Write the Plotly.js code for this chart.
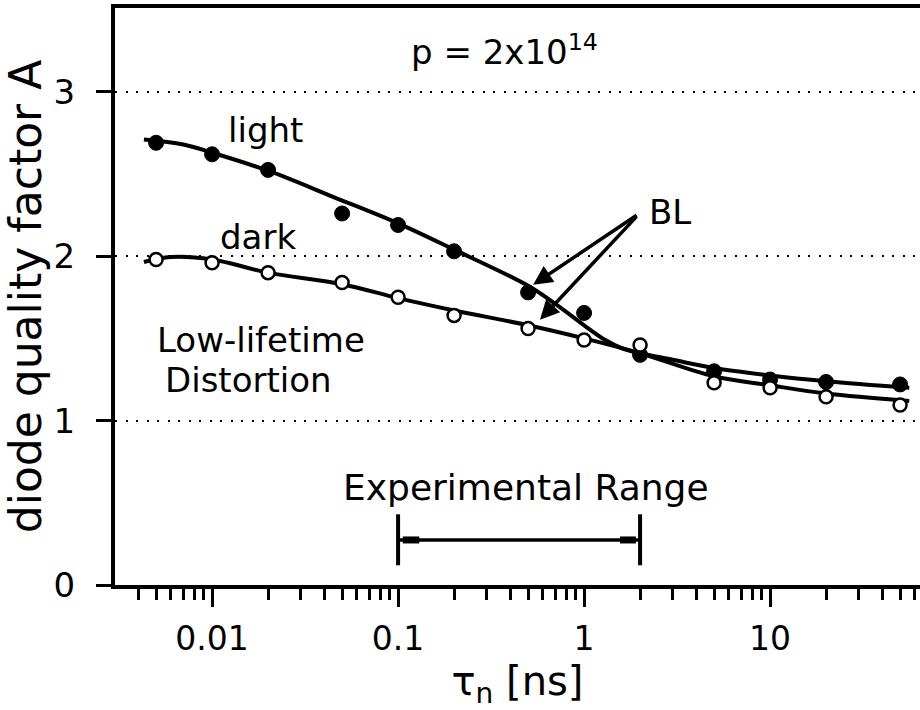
<!DOCTYPE html>
<html>
<head>
<meta charset="utf-8">
<script src="https://cdn.plot.ly/plotly-3.0.1.min.js"></script>
<style>
html,body{margin:0;padding:0;background:#fff;}
#chart{width:920px;height:710px;}
</style>
</head>
<body>
<div id="chart"></div>
<script>
// ---- data ----
var tau = [0.005, 0.01, 0.02, 0.05, 0.1, 0.2, 0.5, 1, 2, 5, 10, 20, 50];
var lightA = [2.69, 2.62, 2.525, 2.26, 2.19, 2.03, 1.78, 1.655, 1.40, 1.30, 1.25, 1.235, 1.22];
var darkA  = [1.98, 1.96, 1.90, 1.84, 1.75, 1.64, 1.56, 1.49, 1.46, 1.23, 1.20, 1.145, 1.095];

var lightFitTau = [0.0043, 0.007, 0.01, 0.02, 0.045, 0.1, 0.2, 0.5, 0.7, 1.0, 1.3, 1.6, 2.0, 3, 5, 10, 20, 56];
var lightFitA   = [2.71, 2.68, 2.63, 2.52, 2.36, 2.20, 2.04, 1.82, 1.71, 1.58, 1.49, 1.44, 1.41, 1.37, 1.32, 1.275, 1.24, 1.20];
var darkFitTau  = [0.0043, 0.006, 0.01, 0.02, 0.05, 0.1, 0.2, 0.5, 1.0, 2.0, 5, 10, 20, 56];
var darkFitA    = [1.965, 1.995, 1.98, 1.90, 1.83, 1.745, 1.67, 1.58, 1.50, 1.41, 1.27, 1.215, 1.165, 1.12];

var expRange = [0.1, 2];
var xTickVals = [0.01, 0.1, 1, 10];
var xTickText = ['0.01', '0.1', '1', '10'];
var yTickVals = [0, 1, 2, 3];
var yTickText = ['0', '1', '2', '3'];

// ---- drawing ----
var FONT = 'DejaVu Sans, Arial, sans-serif';

var bracketLow = 0.12, bracketHigh = 0.43, bracketMid = 0.274;

var traces = [
  {x: lightFitTau, y: lightFitA, mode: 'lines', line: {color: '#000', width: 4, shape: 'spline', smoothing: 1}, hoverinfo: 'skip'},
  {x: darkFitTau, y: darkFitA, mode: 'lines', line: {color: '#000', width: 4, shape: 'spline', smoothing: 1}, hoverinfo: 'skip'},
  {x: tau, y: lightA, mode: 'markers', marker: {color: '#000', size: 15, line: {color: '#000', width: 1}}},
  {x: tau, y: darkA, mode: 'markers', marker: {color: '#fff', size: 13, line: {color: '#000', width: 2.5}}},
  // experimental range bracket
  {x: [expRange[0], expRange[0], null, expRange[1], expRange[1]],
   y: [bracketLow, bracketHigh, null, bracketLow, bracketHigh],
   mode: 'lines', line: {color: '#000', width: 4}, hoverinfo: 'skip'},
  {x: [expRange[0], expRange[1]], y: [bracketMid, bracketMid],
   mode: 'lines', line: {color: '#000', width: 3.5}, hoverinfo: 'skip'},
  {x: [expRange[0] * 1.06, expRange[0] * 1.3, null, expRange[1] * 0.78, expRange[1] * 0.95],
   y: [bracketMid, bracketMid, null, bracketMid, bracketMid],
   mode: 'lines', line: {color: '#000', width: 7}, hoverinfo: 'skip'}
];

function txt(text, x, y, size, xanchor) {
  return {text: text, x: x, y: y, xref: 'x', yref: 'y', showarrow: false,
          xanchor: xanchor || 'center', yanchor: 'middle',
          font: {family: FONT, size: size, color: '#000'}};
}

var annotations = [
  txt('p = 2x10<sup>14</sup>', -0.43, 3.255, 34),
  txt('light', -1.715, 2.77, 34),
  txt('dark', -1.753, 2.12, 34),
  txt('Low-lifetime', -2.306, 1.49, 34, 'left'),
  txt('Distortion', -2.263, 1.25, 34, 'left'),
  txt('BL', 0.462, 2.27, 34),
  txt('Experimental Range', -0.312, 0.596, 36),
  {x: -0.274, y: 1.826, xref: 'x', yref: 'y', ax: 107, ay: -72, text: ' ', showarrow: true,
   arrowhead: 2, arrowsize: 1.1, arrowwidth: 3.5, arrowcolor: '#000'},
  {x: -0.237, y: 1.613, xref: 'x', yref: 'y', ax: 100, ay: -107, text: ' ', showarrow: true,
   arrowhead: 2, arrowsize: 1.1, arrowwidth: 3.5, arrowcolor: '#000'}
];

var layout = {
  width: 920, height: 710,
  margin: {l: 115, r: 0, t: 8, b: 125},
  paper_bgcolor: '#fff', plot_bgcolor: '#fff',
  showlegend: false,
  font: {family: FONT, color: '#000'},
  xaxis: {
    type: 'log', range: [-2.522, 1.806],
    showline: true, linewidth: 4, linecolor: '#000', mirror: true,
    ticks: 'outside', ticklen: 18, tickwidth: 3, tickcolor: '#000',
    tickmode: 'array', tickvals: xTickVals, ticktext: xTickText,
    tickfont: {family: FONT, size: 33, color: '#000'},
    ticklabelstandoff: 3,
    showgrid: false, zeroline: false,
    minor: {ticks: 'outside', ticklen: 11, tickwidth: 3, tickcolor: '#000', dtick: 'D1', showgrid: false},
    title: {text: 'τ<sub>n</sub> [ns]', font: {family: FONT, size: 40, color: '#000'}, standoff: 10}
  },
  yaxis: {
    range: [0, 3.51],
    showline: true, linewidth: 4, linecolor: '#000',
    ticks: 'outside', ticklen: 15, tickwidth: 3, tickcolor: '#000',
    tickmode: 'array', tickvals: yTickVals, ticktext: yTickText,
    tickfont: {family: FONT, size: 34, color: '#000'},
    ticklabelstandoff: 14,
    showgrid: true, gridcolor: '#000', gridwidth: 2, griddash: '2px,8.5px',
    zeroline: false,
    title: {text: 'diode quality factor A', font: {family: FONT, size: 44, color: '#000'}, standoff: 6}
  },
  annotations: annotations
};

Plotly.newPlot('chart', traces, layout, {displayModeBar: false, staticPlot: true});
</script>
</body>
</html>
